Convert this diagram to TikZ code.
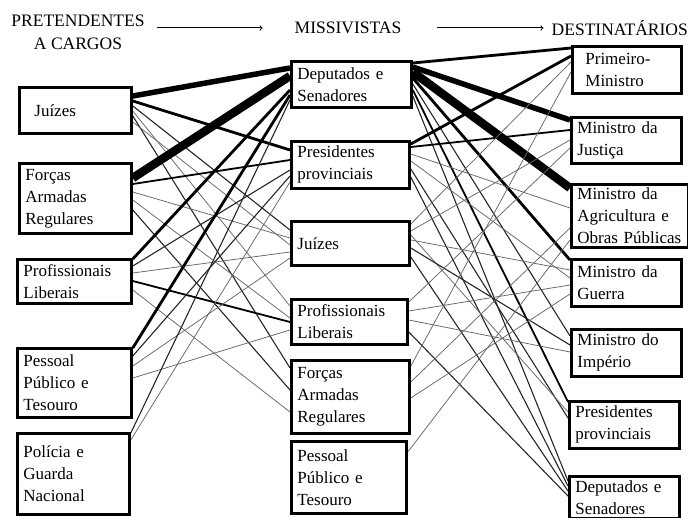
\documentclass[tikz,border=0pt]{standalone}
\usepackage{fontspec}
\setmainfont{Liberation Serif}
\usetikzlibrary{calc,positioning,arrows,backgrounds}

\begin{document}
\begin{tikzpicture}[x=1pt, y=-1pt, font=\fontsize{17}{22}\selectfont]
\tikzstyle{caixa}=[draw, line width=2.8pt, fill=white, anchor=north west,
                   inner xsep=6pt, inner ysep=0pt, align=left]
\tikzstyle{titulo}=[inner sep=0pt, align=center, font=\fontsize{17.5}{23}\selectfont]
\tikzstyle{seta}=[->, >=to, line width=1pt]
\tikzstyle{fio}=[line width=0.75pt, black!60]
\tikzstyle{fino}=[line width=1.1pt, black!85]
\tikzstyle{medio}=[line width=1.8pt]
\tikzstyle{grosso}=[line width=2.8pt]
\tikzstyle{forte}=[line width=5.5pt]
\tikzstyle{fortissimo}=[line width=8.5pt]
\useasboundingbox (0,0) rectangle (688,518);

\node[titulo] (PC) at (78,32) {PRETENDENTES\\A CARGOS};
\node[titulo] (MS) at (348,28) {MISSIVISTAS};
\node[titulo, anchor=east] (DS) at (688,28) {DESTINATÁRIOS};
\draw[seta, shorten <=12pt, shorten >=32pt] (PC.east |- MS.west) -- (MS.west);
\draw[seta, shorten <=36pt, shorten >=8pt] (MS.east) -- (DS.west);

\node[caixa, minimum width=112pt, minimum height=46pt, text width=100pt] (P1) at (18,86) {\hspace*{9pt}Juízes};
\node[caixa, minimum width=112pt, minimum height=70pt, text width=100pt] (P2) at (18,162) {Forças\\Armadas\\Regulares};
\node[caixa, minimum width=114pt, minimum height=44pt, text width=102pt] (P3) at (16,258) {Profissionais\\Liberais};
\node[caixa, minimum width=114pt, minimum height=69pt, text width=102pt] (P4) at (16,347) {Pessoal\\Público e\\Tesouro};
\node[caixa, minimum width=112pt, minimum height=81pt, text width=100pt] (P5) at (16,432) {Polícia e\\Guarda\\Nacional};

\node[caixa, minimum width=120pt, minimum height=46pt, text width=108pt] (M1) at (290,60) {Deputados e\\Senadores};
\node[caixa, minimum width=118pt, minimum height=47pt, text width=106pt] (M2) at (290,140) {Presidentes\\provinciais};
\node[caixa, minimum width=118pt, minimum height=44pt, text width=106pt] (M3) at (290,220) {Juízes};
\node[caixa, minimum width=116pt, minimum height=45pt, text width=104pt] (M4) at (290,298) {Profissionais\\Liberais};
\node[caixa, minimum width=118pt, minimum height=73pt, text width=106pt] (M5) at (290,359) {Forças\\Armadas\\Regulares};
\node[caixa, minimum width=115pt, minimum height=72pt, text width=103pt] (M6) at (290,440) {Pessoal\\Público e\\Tesouro};

\node[caixa, minimum width=109pt, minimum height=47pt, text width=97pt] (D1) at (571,45) {\hspace*{7pt}Primeiro-\\\hspace*{7pt}Ministro};
\node[caixa, minimum width=110pt, minimum height=46pt, text width=98pt] (D2) at (570,116) {Ministro da\\Justiça};
\node[caixa, minimum width=117pt, minimum height=63pt, text width=105pt] (D3) at (570,183) {Ministro da\\Agricultura e\\Obras Públicas};
\node[caixa, minimum width=110pt, minimum height=47pt, text width=98pt] (D4) at (570,258) {Ministro da\\Guerra};
\node[caixa, minimum width=110pt, minimum height=47pt, text width=98pt] (D5) at (570,328) {Ministro do\\Império};
\node[caixa, minimum width=110pt, minimum height=47pt, text width=98pt] (D6) at (568,400) {Presidentes\\provinciais};
\node[caixa, minimum width=110pt, minimum height=42pt, text width=98pt] (D7) at (568,475) {Deputados e\\Senadores};

\begin{scope}[on background layer]
\draw[forte] ([yshift=-10pt]P1.north east) -- ([yshift=-8pt]M1.north west);
\draw[grosso] ([yshift=-15pt]P1.north east) -- ([yshift=-10pt]M2.north west);
\draw[fino] ([yshift=-20pt]P1.north east) -- ([yshift=-10pt]M3.north west);
\draw[fio] ([yshift=-25pt]P1.north east) -- ([yshift=-8pt]M4.north west);
\draw[fino] ([yshift=-30pt]P1.north east) -- ([yshift=-9pt]M5.north west);
\draw[fio] ([yshift=-36pt]P1.north east) -- ([yshift=-25pt]M3.north west);
\draw[fortissimo] ([yshift=-16pt]P2.north east) -- ([yshift=-16pt]M1.north west);
\draw[medio] ([yshift=-22pt]P2.north east) -- ([yshift=-20pt]M2.north west);
\draw[fio] ([yshift=-30pt]P2.north east) -- ([yshift=-18pt]M3.north west);
\draw[fio] ([yshift=-38pt]P2.north east) -- ([yshift=-20pt]M4.north west);
\draw[fino] ([yshift=-48pt]P2.north east) -- ([yshift=-31pt]M5.north west);
\draw[grosso] ([yshift=-1pt]P3.north east) -- ([yshift=-30pt]M1.north west);
\draw[fino] ([yshift=-8pt]P3.north east) -- ([yshift=-30pt]M2.north west);
\draw[fio] ([yshift=-15pt]P3.north east) -- ([yshift=-32pt]M3.north west);
\draw[medio] ([yshift=-23pt]P3.north east) -- ([yshift=-24pt]M4.north west);
\draw[fio] ([yshift=-32pt]P3.north east) -- ([yshift=-53pt]M5.north west);
\draw[grosso] ([yshift=-1pt]P4.north east) -- ([yshift=-35pt]M1.north west);
\draw[fino] ([yshift=-9pt]P4.north east) -- ([yshift=-36pt]M2.north west);
\draw[fio] ([yshift=-19pt]P4.north east) -- ([yshift=-38pt]M3.north west);
\draw[fio] ([yshift=-31pt]P4.north east) -- ([yshift=-32pt]M4.north west);
\draw[fino] ([yshift=-1pt]P5.north east) -- ([yshift=-40pt]M1.north west);
\draw[fio] ([yshift=-8pt]P5.north east) -- ([yshift=-42pt]M2.north west);

\draw[grosso] ([yshift=-3pt]M1.north east) -- ([yshift=-3pt]D1.north west);
\draw[forte] ([yshift=-7pt]M1.north east) -- ([yshift=-4pt]D2.north west);
\draw[fortissimo] ([yshift=-12pt]M1.north east) -- ([yshift=-5pt]D3.north west);
\draw[grosso] ([yshift=-18pt]M1.north east) -- ([yshift=-2pt]D4.north west);
\draw[fino] ([yshift=-24pt]M1.north east) -- ([yshift=-8pt]D5.north west);
\draw[medio] ([yshift=-30pt]M1.north east) -- ([yshift=-2pt]D6.north west);
\draw[fino] ([yshift=-36pt]M1.north east) -- ([yshift=-6pt]D7.north west);
\draw[grosso] ([yshift=-4pt]M2.north east) -- ([yshift=-11pt]D1.north west);
\draw[medio] ([yshift=-7pt]M2.north east) -- ([yshift=-14pt]D2.north west);
\draw[fio] ([yshift=-14pt]M2.north east) -- ([yshift=-25pt]D3.north west);
\draw[fio] ([yshift=-21pt]M2.north east) -- ([yshift=-20pt]D4.north west);
\draw[fino] ([yshift=-29pt]M2.north east) -- ([yshift=-18pt]D6.north west);
\draw[fino] ([yshift=-37pt]M2.north east) -- ([yshift=-11pt]D7.north west);
\draw[fio] ([yshift=-4pt]M3.north east) -- ([yshift=-17pt]D1.north west);
\draw[fio] ([yshift=-11pt]M3.north east) -- ([yshift=-24pt]D2.north west);
\draw[fio] ([yshift=-15pt]M3.north east) -- ([yshift=-12pt]D6.north west);
\draw[fio] ([yshift=-20pt]M3.north east) -- ([yshift=-12pt]D4.north west);
\draw[fino] ([yshift=-28pt]M3.north east) -- ([yshift=-17pt]D5.north west);
\draw[fino] ([yshift=-37pt]M3.north east) -- ([yshift=-16pt]D7.north west);
\draw[fio] ([yshift=-4pt]M4.north east) -- ([yshift=-32pt]D2.north west);
\draw[fio] ([yshift=-13pt]M4.north east) -- ([yshift=-27pt]D4.north west);
\draw[fio] ([yshift=-22pt]M4.north east) -- ([yshift=-24pt]D5.north west);
\draw[fino] ([yshift=-34pt]M4.north east) -- ([yshift=-21pt]D7.north west);
\draw[fio] ([yshift=-7pt]M5.north east) -- ([yshift=-27pt]D1.north west);
\draw[fio] ([yshift=-23pt]M5.north east) -- ([yshift=-45pt]D3.north west);
\draw[fio] ([yshift=-39pt]M5.north east) -- ([yshift=-36pt]D4.north west);
\draw[fio] ([yshift=-12pt]M6.north east) -- ([yshift=-57pt]D3.north west);
\end{scope}
\end{tikzpicture}
\end{document}
